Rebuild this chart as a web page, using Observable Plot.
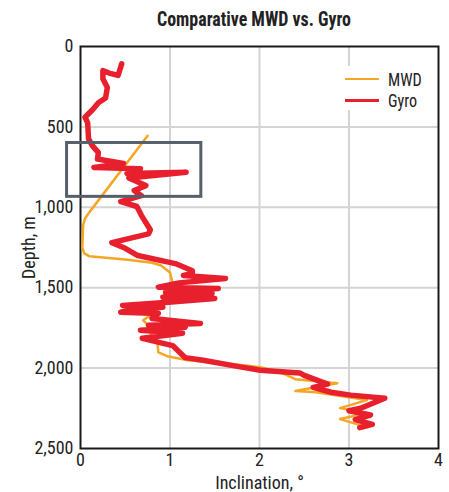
<!DOCTYPE html>
<html>
<head>
<meta charset="utf-8">
<script src="https://cdn.jsdelivr.net/npm/d3@7"></script>
<script src="https://cdn.jsdelivr.net/npm/@observablehq/plot@0.6"></script>
<style>
  body { margin: 0; background: #fff; font-family: "Roboto Condensed", Roboto, sans-serif; }
  #wrap { position: relative; width: 449px; height: 492px; }
  #title { height: 36px; width: 449px; position: relative; }
  #title span { position: absolute; left: 254px; top: 7px; white-space: nowrap; font-weight: bold; font-size: 21px;
                color: #222; transform-origin: 0 0; }
  #legend { position: absolute; left: 340px; top: 66px; width: 80px; height: 44px; background: #fff; }
  .item { position: absolute; left: 5px; height: 20px; display: flex; align-items: center; font-size: 19px; color: #222; }
  .sw { width: 34px; height: 0; margin-right: 9px; }
  .lt { display: inline-block; transform: scaleX(0.85); transform-origin: 0 50%; }
</style>
</head>
<body>
<div id="wrap">
  <div id="title"><span>Comparative MWD vs. Gyro</span></div>
  <div id="chart"></div>
  <div id="legend"></div>
</div>
<script>
// Gyro survey: depth (m) and inclination (deg)
const gyroDepth = [108,180,165,150,200,255,320,350,390,440,475,575,615,660,700,728,752,760,790,782,818,865,895,928,965,995,1050,1140,1165,1220,1255,1300,1350,1395,1412,1424,1443,1470,1497,1505,1530,1536,1560,1567,1591,1610,1622,1640,1653,1660,1691,1722,1734,1746,1765,1784,1815,1860,1935,1951,1994,2013,2030,2045,2100,2120,2150,2168,2187,2250,2265,2292,2320,2350,2370];
const gyroIncl  = [0.46,0.42,0.32,0.25,0.25,0.30,0.28,0.20,0.14,0.05,0.08,0.09,0.13,0.20,0.19,0.48,0.15,0.67,0.52,1.18,0.54,0.73,0.60,0.68,0.45,0.63,0.68,0.78,0.76,0.35,0.50,0.64,1.06,1.25,1.25,1.15,1.62,1.10,0.87,1.54,0.95,1.47,0.92,1.50,0.98,0.47,0.92,0.55,0.45,0.87,0.80,1.34,0.76,1.17,0.67,1.14,0.69,1.03,1.17,1.37,1.80,2.01,2.45,2.50,2.76,2.60,2.80,3.02,3.40,3.13,3.00,3.24,3.07,3.26,3.12];

// MWD survey: depth (m) and inclination (deg)
const mwdDepth = [555,1030,1070,1110,1250,1285,1305,1325,1345,1362,1405,1474,1560,1641,1672,1703,1746,1784,1846,1902,1926,1951,1963,1982,1994,2030,2069,2094,2143,2150,2199,2249,2280,2317,2367];
const mwdIncl  = [0.75,0.10,0.05,0.03,0.02,0.04,0.10,0.50,0.80,0.90,1.00,1.03,0.93,0.86,0.78,0.70,0.78,0.78,0.86,0.87,0.97,1.20,1.45,1.82,2.01,2.25,2.40,2.87,2.40,2.63,3.20,2.90,3.20,2.90,3.20];

// Highlighted interval box
const boxIncl = [-0.15, 1.35];
const boxDepth = [600, 935];

const xTicks = [0, 1, 2, 3, 4];
const yTicks = [0, 500, 1000, 1500, 2000, 2500];
const gridX = [1, 2, 3];
const gridY = [500, 1000, 1500, 2000];

const seriesNames = ["MWD", "Gyro"];
const seriesColors = ["#f5a623", "#e8202e"];
const seriesWidths = [2.5, 5.5];

const gyro = gyroDepth.map((d, i) => ({depth: d, incl: gyroIncl[i]}));
const mwd = mwdDepth.map((d, i) => ({depth: d, incl: mwdIncl[i]}));
const box = [{x1: boxIncl[0], x2: boxIncl[1], y1: boxDepth[0], y2: boxDepth[1]}];

const chart = Plot.plot({
  width: 449,
  height: 456,
  marginTop: 10,
  marginLeft: 80,
  marginRight: 11,
  marginBottom: 44,
  style: {fontFamily: '"Roboto Condensed", Roboto, sans-serif', fontSize: "18px", color: "#222", background: "#fff", overflow: "visible"},
  x: {domain: [0, 4], ticks: xTicks, tickSize: 0, tickPadding: 5, tickFormat: d3.format("d"), label: "Inclination, °", labelAnchor: "center", labelArrow: "none", labelOffset: 40},
  y: {domain: [0, 2500], reverse: true, ticks: yTicks, tickSize: 0, tickPadding: 7, tickFormat: d3.format(","), label: "Depth, m", labelAnchor: "center", labelArrow: "none", labelOffset: 58},
  marks: [
    Plot.ruleX(gridX, {stroke: "#d4d4d4", strokeWidth: 2}),
    Plot.ruleY(gridY, {stroke: "#d4d4d4", strokeWidth: 2}),
    Plot.frame({stroke: "#1a1a1a", strokeWidth: 2}),
    Plot.line(mwd, {x: "incl", y: "depth", stroke: seriesColors[0], strokeWidth: seriesWidths[0]}),
    Plot.line(gyro, {x: "incl", y: "depth", stroke: seriesColors[1], strokeWidth: seriesWidths[1], strokeLinejoin: "round", strokeLinecap: "round"}),
    Plot.rect(box, {x1: "x1", x2: "x2", y1: "y1", y2: "y2", fill: "none", stroke: "#56606a", strokeWidth: 3})
  ]
});
document.getElementById("chart").appendChild(chart);

// Condense the title to the reference width, centred on the plot
const ts = document.querySelector("#title span");
const tw = ts.getBoundingClientRect().width;
const sc = 194 / tw;
ts.style.transform = `translateX(${-97}px) scaleX(${sc})`;

const legend = document.getElementById("legend");
seriesNames.forEach((name, i) => {
  const item = document.createElement("div");
  item.className = "item";
  item.style.top = (3 + i * 21) + "px";
  const sw = document.createElement("span");
  sw.className = "sw";
  sw.style.borderTop = `${i === 1 ? 3 : 2.5}px solid ${seriesColors[i]}`;
  item.appendChild(sw);
  const t = document.createElement("span");
  t.className = "lt";
  t.textContent = name;
  item.appendChild(t);
  legend.appendChild(item);
});
</script>
</body>
</html>
